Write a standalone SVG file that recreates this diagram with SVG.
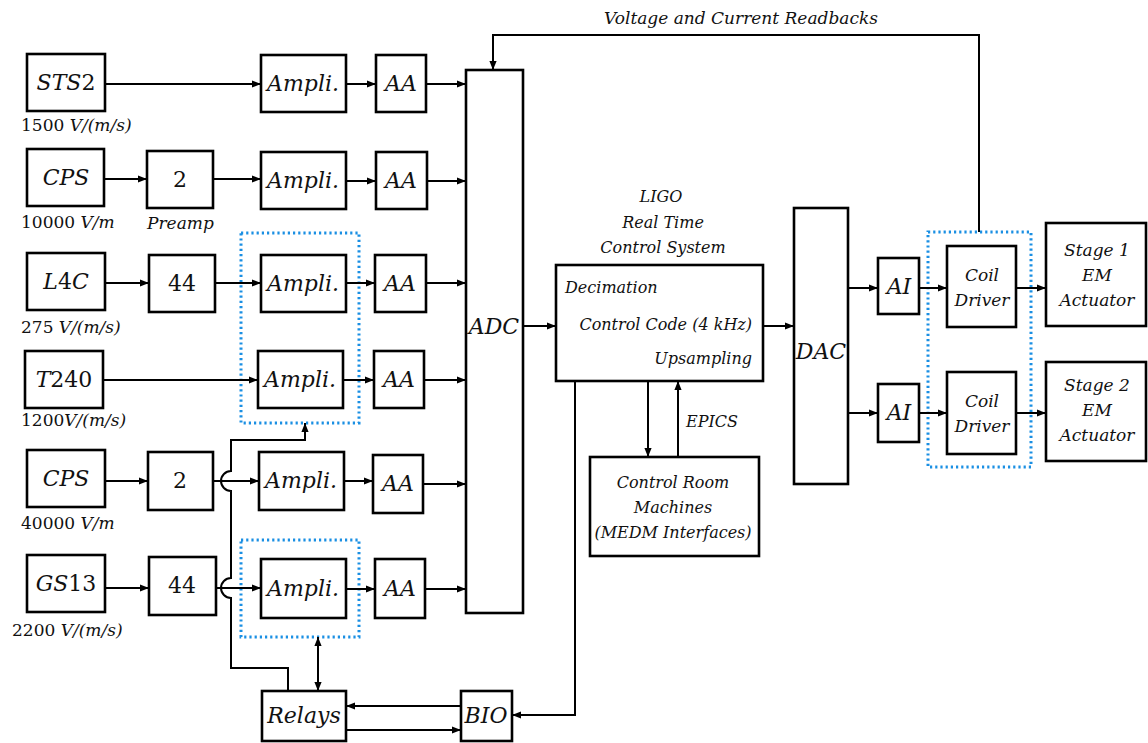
<svg xmlns="http://www.w3.org/2000/svg" width="1148" height="743" viewBox="0 0 1148 743">
<style>
text{font-family:"DejaVu Serif","Liberation Serif",serif;fill:#111;}
.i{font-style:italic;}
.box{fill:#fff;stroke:#000;stroke-width:2.6;}
.dot{fill:none;stroke:#1a8fe3;stroke-width:3;stroke-dasharray:2.2 3;}
.c{fill:none;stroke:#000;stroke-width:2;}
.bl{font-size:22px;text-anchor:middle;}
.sl{font-size:17px;}
.md{font-size:16px;text-anchor:middle;}
.cd{font-size:17px;text-anchor:middle;}
</style>
<defs>
<marker id="ah" viewBox="0 0 10 10" refX="10" refY="5" markerWidth="9" markerHeight="9" markerUnits="userSpaceOnUse" orient="auto-start-reverse">
<path d="M0,1 L10,5 L0,9 z" fill="#000"/>
</marker>
</defs>
<rect width="1148" height="743" fill="#fff"/>

<g id="dotted-groups">
<rect class="dot" x="241" y="233" width="118" height="190"/>
<rect class="dot" x="241" y="540" width="118" height="97"/>
<rect class="dot" x="928" y="232" width="103" height="235"/>
</g>

<g id="connectors">
<path class="c" marker-end="url(#ah)" d="M105,84 H261"/>
<path class="c" marker-end="url(#ah)" d="M346,84 H376"/>
<path class="c" marker-end="url(#ah)" d="M426,84 H466"/>
<path class="c" marker-end="url(#ah)" d="M104,179 H147"/>
<path class="c" marker-end="url(#ah)" d="M213,179 H261"/>
<path class="c" marker-end="url(#ah)" d="M346,181 H376"/>
<path class="c" marker-end="url(#ah)" d="M427,181 H466"/>
<path class="c" marker-end="url(#ah)" d="M105,283 H149"/>
<path class="c" marker-end="url(#ah)" d="M215,283 H261"/>
<path class="c" marker-end="url(#ah)" d="M346,283 H375"/>
<path class="c" marker-end="url(#ah)" d="M426,283 H466"/>
<path class="c" marker-end="url(#ah)" d="M103,380 H258"/>
<path class="c" marker-end="url(#ah)" d="M343,380 H374"/>
<path class="c" marker-end="url(#ah)" d="M424,380 H466"/>
<path class="c" marker-end="url(#ah)" d="M105,481 H148"/>
<path class="c" marker-end="url(#ah)" d="M213,481 H259"/>
<path class="c" marker-end="url(#ah)" d="M344,481 H373"/>
<path class="c" marker-end="url(#ah)" d="M423,484 H466"/>
<path class="c" marker-end="url(#ah)" d="M105,588 H149"/>
<path class="c" marker-end="url(#ah)" d="M216,588 H261"/>
<path class="c" marker-end="url(#ah)" d="M346,589 H375"/>
<path class="c" marker-end="url(#ah)" d="M425,589 H466"/>
<path class="c" marker-end="url(#ah)" d="M523,326 H556"/>
<path class="c" marker-end="url(#ah)" d="M763,326 H794"/>
<path class="c" marker-end="url(#ah)" d="M848,288 H878"/>
<path class="c" marker-end="url(#ah)" d="M919,288 H947"/>
<path class="c" marker-end="url(#ah)" d="M1016,288 H1046"/>
<path class="c" marker-end="url(#ah)" d="M848,413 H878"/>
<path class="c" marker-end="url(#ah)" d="M919,413 H947"/>
<path class="c" marker-end="url(#ah)" d="M1016,413 H1046"/>
<path class="c" marker-end="url(#ah)" d="M979,232 V35 H493 V70"/>
<path class="c" marker-end="url(#ah)" d="M648,381 V457"/>
<path class="c" marker-end="url(#ah)" d="M678,457 V381"/>
<path class="c" marker-end="url(#ah)" d="M575,381 V715 H512"/>
<path class="c" marker-end="url(#ah)" d="M461,706 H346"/>
<path class="c" marker-end="url(#ah)" d="M346,730 H461"/>
<path class="c" marker-start="url(#ah)" marker-end="url(#ah)" d="M318,691 V637"/>
<path class="c" marker-end="url(#ah)" d="M288,691 V668 H231 V598 A10,10 0 0 1 231,578 V491 A10,10 0 0 1 231,471 V440 H305 V423"/>
</g>

<g id="sts2"><rect class="box" x="27" y="54" width="78" height="57"/><text class="bl" x="66" y="90"><tspan class="i">STS</tspan>2</text></g>
<g id="cps1"><rect class="box" x="27" y="149" width="77" height="57"/><text class="bl i" x="66" y="185">CPS</text></g>
<g id="pre1"><rect class="box" x="147" y="151" width="66" height="57"/><text class="bl" x="180" y="187">2</text></g>
<g id="l4c"><rect class="box" x="27" y="253" width="78" height="57"/><text class="bl" x="66" y="289"><tspan class="i">L</tspan>4<tspan class="i">C</tspan></text></g>
<g id="pre2"><rect class="box" x="149" y="255" width="66" height="57"/><text class="bl" x="182" y="291">44</text></g>
<g id="t240"><rect class="box" x="25" y="351" width="78" height="57"/><text class="bl" x="64" y="387"><tspan class="i">T</tspan>240</text></g>
<g id="cps2"><rect class="box" x="27" y="450" width="78" height="57"/><text class="bl i" x="66" y="486">CPS</text></g>
<g id="pre3"><rect class="box" x="148" y="452" width="65" height="58"/><text class="bl" x="180" y="488">2</text></g>
<g id="gs13"><rect class="box" x="27" y="555" width="78" height="57"/><text class="bl" x="66" y="591"><tspan class="i">GS</tspan>13</text></g>
<g id="pre4"><rect class="box" x="149" y="557" width="67" height="58"/><text class="bl" x="182" y="593">44</text></g>

<g id="amp1"><rect class="box" x="261" y="55" width="85" height="57"/><text class="bl i" x="303" y="91">Ampli.</text></g>
<g id="amp2"><rect class="box" x="261" y="152" width="85" height="57"/><text class="bl i" x="303" y="188">Ampli.</text></g>
<g id="amp3"><rect class="box" x="261" y="255" width="85" height="57"/><text class="bl i" x="303" y="291">Ampli.</text></g>
<g id="amp4"><rect class="box" x="258" y="351" width="85" height="57"/><text class="bl i" x="300" y="387">Ampli.</text></g>
<g id="amp5"><rect class="box" x="259" y="452" width="85" height="58"/><text class="bl i" x="301" y="488">Ampli.</text></g>
<g id="amp6"><rect class="box" x="261" y="559" width="85" height="59"/><text class="bl i" x="303" y="596">Ampli.</text></g>

<g id="aa1"><rect class="box" x="376" y="55" width="50" height="57"/><text class="bl i" x="401" y="91">AA</text></g>
<g id="aa2"><rect class="box" x="376" y="152" width="51" height="57"/><text class="bl i" x="401" y="188">AA</text></g>
<g id="aa3"><rect class="box" x="375" y="255" width="51" height="57"/><text class="bl i" x="400" y="291">AA</text></g>
<g id="aa4"><rect class="box" x="374" y="351" width="50" height="57"/><text class="bl i" x="399" y="387">AA</text></g>
<g id="aa5"><rect class="box" x="373" y="455" width="50" height="58"/><text class="bl i" x="398" y="491">AA</text></g>
<g id="aa6"><rect class="box" x="375" y="559" width="50" height="59"/><text class="bl i" x="400" y="596">AA</text></g>

<g id="adc"><rect class="box" x="466" y="70" width="57" height="543"/><text class="bl i" x="494" y="334">ADC</text></g>

<g id="ligo">
<text class="md i" x="661" y="202">LIGO</text>
<text class="md i" x="663" y="228">Real Time</text>
<text class="md i" x="663" y="253">Control System</text>
<rect class="box" x="556" y="265" width="207" height="116"/>
<text class="i" x="565" y="293" font-size="16">Decimation</text>
<text class="i" x="752" y="330" font-size="16" text-anchor="end">Control Code (4 kHz)</text>
<text class="i" x="752" y="364" font-size="16" text-anchor="end">Upsampling</text>
</g>
<g id="epics-label"><text class="i" x="686" y="427" font-size="16">EPICS</text></g>
<g id="control-room">
<rect class="box" x="590" y="457" width="169" height="99"/>
<text class="md i" x="673" y="488">Control Room</text>
<text class="md i" x="673" y="513">Machines</text>
<text class="md i" x="673" y="538">(MEDM Interfaces)</text>
</g>

<g id="dac"><rect class="box" x="794" y="208" width="54" height="276"/><text class="bl i" x="821" y="359">DAC</text></g>
<g id="ai1"><rect class="box" x="878" y="258" width="41" height="56"/><text class="bl i" x="899" y="294">AI</text></g>
<g id="ai2"><rect class="box" x="878" y="384" width="41" height="58"/><text class="bl i" x="899" y="420">AI</text></g>
<g id="coil1"><rect class="box" x="947" y="246" width="69" height="81"/><text class="cd i" x="982" y="281">Coil</text><text class="cd i" x="982" y="306">Driver</text></g>
<g id="coil2"><rect class="box" x="947" y="372" width="69" height="82"/><text class="cd i" x="982" y="407">Coil</text><text class="cd i" x="982" y="432">Driver</text></g>
<g id="stage1"><rect class="box" x="1046" y="223" width="100" height="103"/><text class="cd i" x="1097" y="256">Stage 1</text><text class="cd i" x="1097" y="281">EM</text><text class="cd i" x="1097" y="306">Actuator</text></g>
<g id="stage2"><rect class="box" x="1046" y="362" width="100" height="99"/><text class="cd i" x="1097" y="391">Stage 2</text><text class="cd i" x="1097" y="416">EM</text><text class="cd i" x="1097" y="441">Actuator</text></g>

<g id="relays"><rect class="box" x="262" y="691" width="84" height="50"/><text class="bl i" x="304" y="723">Relays</text></g>
<g id="bio"><rect class="box" x="461" y="691" width="51" height="50"/><text class="bl i" x="486" y="723">BIO</text></g>

<g id="labels">
<text class="sl" x="21" y="131">1500 <tspan class="i">V/(m/s)</tspan></text>
<text class="sl" x="21" y="228">10000 <tspan class="i">V/m</tspan></text>
<text class="sl i" x="147" y="229">Preamp</text>
<text class="sl" x="21" y="333">275 <tspan class="i">V/(m/s)</tspan></text>
<text class="sl" x="21" y="426">1200<tspan class="i">V/(m/s)</tspan></text>
<text class="sl" x="21" y="529">40000 <tspan class="i">V/m</tspan></text>
<text class="sl" x="12" y="636">2200 <tspan class="i">V/(m/s)</tspan></text>
<text class="i" x="741" y="24" font-size="17" text-anchor="middle">Voltage and Current Readbacks</text>
</g>
</svg>
